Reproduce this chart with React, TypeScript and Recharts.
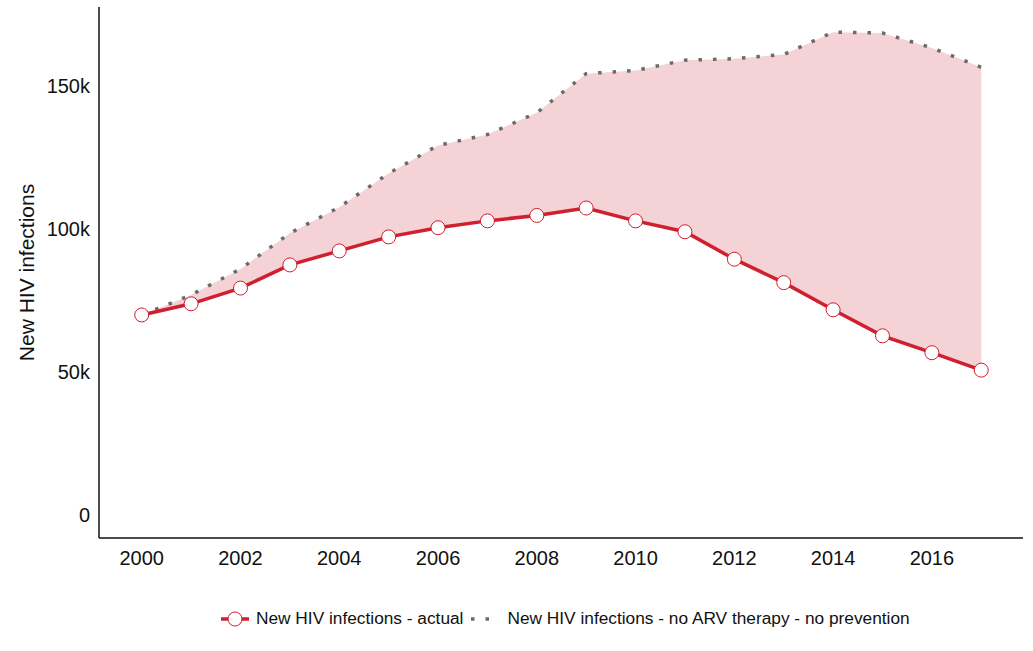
import { ComposedChart, Line, Area, XAxis, YAxis, Legend } from "recharts";

const years = [2000, 2001, 2002, 2003, 2004, 2005, 2006, 2007, 2008, 2009, 2010, 2011, 2012, 2013, 2014, 2015, 2016, 2017];
const actual = [70000, 73900, 79400, 87500, 92400, 97300, 100500, 102900, 104800, 107400, 102900, 99100, 89500, 81300, 71800, 62700, 56800, 50700];
const noArv = [70000, 77000, 86100, 98600, 107700, 119500, 129300, 133100, 140700, 154400, 155500, 159100, 159600, 161100, 168900, 168600, 163400, 156600];
const xTicks = [2000, 2002, 2004, 2006, 2008, 2010, 2012, 2014, 2016];
const yTicks = [0, 50000, 100000, 150000];

const RED = "#d01f2e";
const GREY = "#6b6b6b";
const FILL = "#f4d2d6";
const FONT = "'Liberation Sans', Arial, sans-serif";

const data = years.map((year, i) => ({
  year,
  actual: actual[i],
  noArv: noArv[i],
  gap: [actual[i], noArv[i]],
}));

function fmtK(v: number) {
  return v === 0 ? "0" : v / 1000 + "k";
}

// eslint-disable-next-line @typescript-eslint/no-explicit-any
function YTitle({ viewBox }: any) {
  const x = viewBox.x + 26;
  const y = viewBox.y + viewBox.height / 2;
  return (
    <text x={x} y={y} transform={`rotate(-90, ${x}, ${y})`} textAnchor="middle" dominantBaseline="central"
      fontSize={21} fill="#111" fontFamily={FONT}>
      New HIV infections
    </text>
  );
}

function LegendBox() {
  return (
    <div style={{ display: "flex", alignItems: "center", fontFamily: FONT, fontSize: 17.3, color: "#111", whiteSpace: "nowrap" }}>
      <svg width={30} height={16} style={{ marginRight: 5 }}>
        <line x1={0} y1={8} x2={28} y2={8} stroke={RED} strokeWidth={3.5} />
        <circle cx={14} cy={8} r={7} fill="#fff" stroke={RED} strokeWidth={1} />
      </svg>
      <span>New HIV infections - actual</span>
      <svg width={36} height={16} style={{ marginLeft: 6, marginRight: 2 }}>
        <line x1={2} y1={8} x2={26} y2={8} stroke={GREY} strokeWidth={3.5} strokeDasharray="3.5 11" />
      </svg>
      <span>New HIV infections - no ARV therapy - no prevention</span>
    </div>
  );
}

export default function App() {
  return (
    <div style={{ position: "absolute", left: 0, top: 0, background: "#fff" }}>
      <ComposedChart width={1033} height={651} data={data} margin={{ top: 7, right: 10, left: 0, bottom: 62 }}>
        <XAxis
          dataKey="year"
          type="number"
          domain={[1999.135, 2017.845]}
          ticks={xTicks}
          allowDataOverflow
          tickLine={false}
          tickMargin={7}
          axisLine={{ stroke: "#111", strokeWidth: 1.5 }}
          tick={{ fontSize: 20, fill: "#111", fontFamily: FONT }}
        />
        <YAxis
          type="number"
          domain={[-8000, 177700]}
          ticks={yTicks}
          allowDataOverflow
          width={99}
          tickLine={false}
          tickMargin={3}
          tickFormatter={fmtK}
          axisLine={{ stroke: "#111", strokeWidth: 1.5 }}
          tick={{ fontSize: 20, fill: "#111", fontFamily: FONT }}
          label={<YTitle />}
        />
        <Legend
          content={<LegendBox />}
          wrapperStyle={{ left: 221, top: 608, width: "auto" }}
        />
        <Area dataKey="gap" type="linear" stroke="none" fill={FILL} fillOpacity={1} isAnimationActive={false} legendType="none" />
        <Line dataKey="noArv" type="linear" stroke={GREY} strokeWidth={3.5} strokeDasharray="3.5 11" dot={false} isAnimationActive={false} />
        <Line
          dataKey="actual"
          type="linear"
          stroke={RED}
          strokeWidth={3.5}
          dot={{ r: 7, fill: "#fff", stroke: RED, strokeWidth: 1 }}
          isAnimationActive={false}
        />
      </ComposedChart>
    </div>
  );
}
